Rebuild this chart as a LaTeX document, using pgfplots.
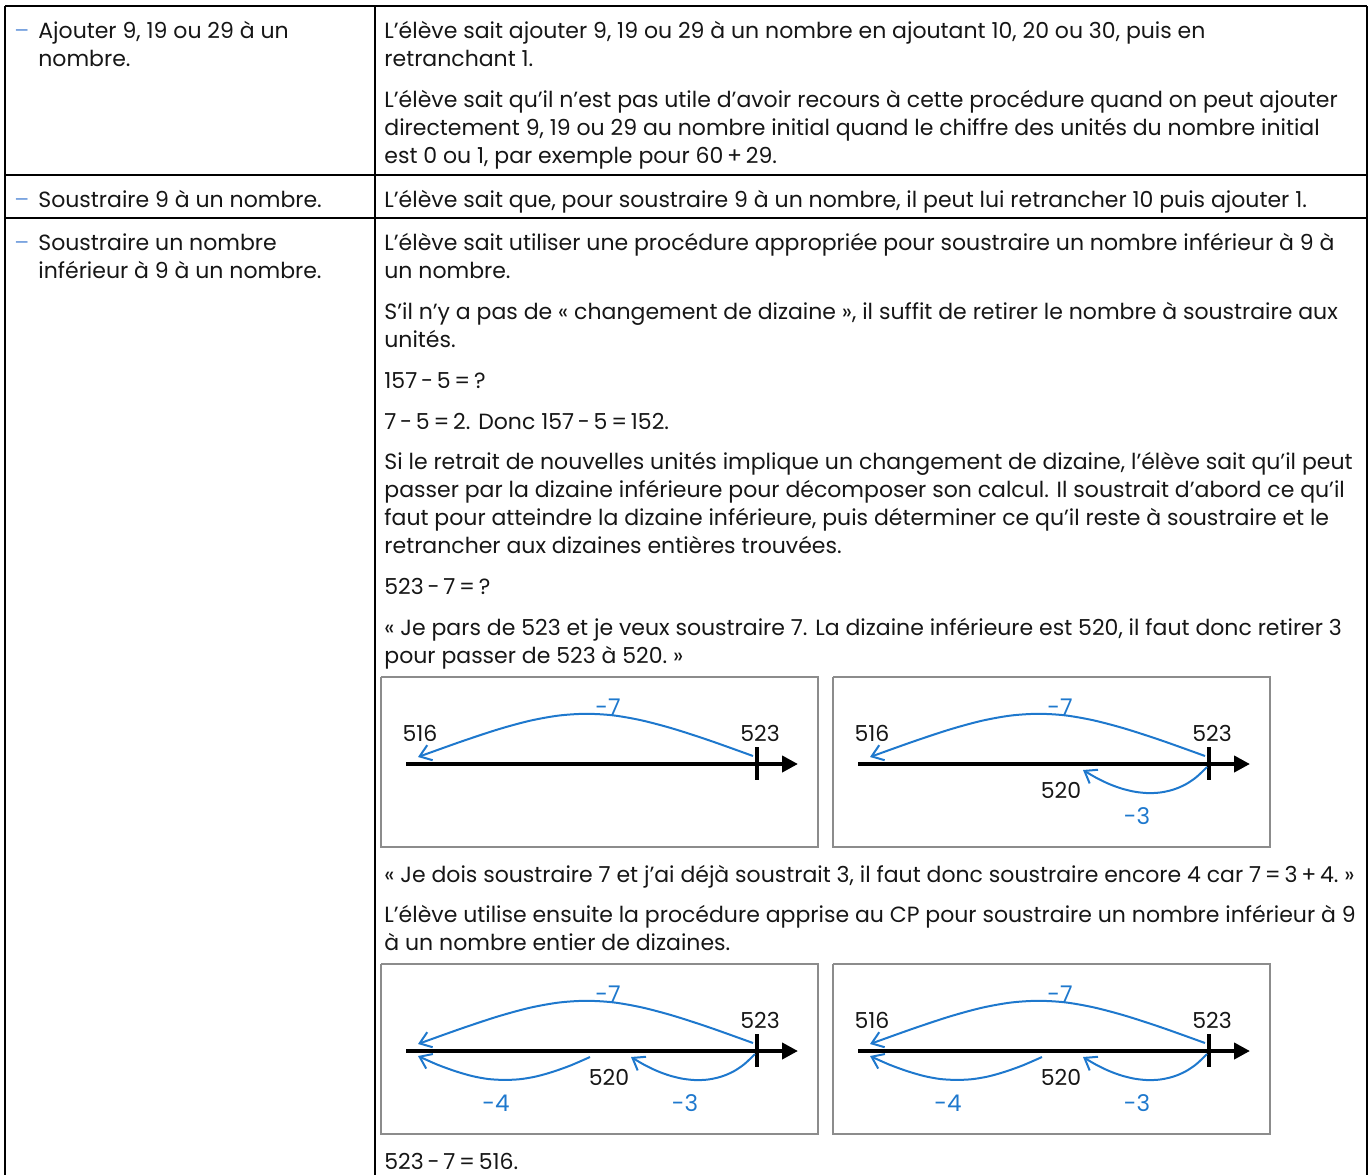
\documentclass[border=0pt]{standalone}
\usepackage{fontspec}
\setmainfont{Poppins}
\usepackage{pgfplots}
\pgfplotsset{compat=1.18}
\usetikzlibrary{arrows.meta}

\definecolor{txt}{RGB}{22,22,22}
\definecolor{arccol}{RGB}{30,120,205}
\definecolor{dashcol}{RGB}{110,155,220}
\definecolor{framecol}{RGB}{140,140,140}

% narrow space around operators
\newcommand{\s}{\hspace{0.17em}}

% 1 px of the reference = 0.5pt
\pgfplotsset{
  px/.style={hide axis, scale only axis, clip=false, y dir=reverse, xmin=0, ymin=0},
  nl/.style={px, xmax=437, ymax=170, width=218.5pt, height=85pt, anchor=north west},
}
\tikzset{
  tx/.style={anchor=base west, inner sep=0pt, text=txt, font=\fontsize{11pt}{13pt}\selectfont},
  num/.style={inner sep=0pt, text=txt, font=\fontsize{11pt}{13pt}\selectfont},
  jmp/.style={inner sep=0pt, text=arccol, font=\fontsize{11.5pt}{13pt}\selectfont},
  rule/.style={black, line width=1.25pt},
  arcline/.style={arccol, line width=1pt, smooth, -{Straight Barb[length=5.5pt,width=8pt]}},
}

% jumps on the number line, in px of one picture box
\pgfplotstableread{
x y
372 79
328.9 63.6
292.2 51.7
260.4 43.3
231.7 38.3
204.5 36.8
177.4 38.6
148.6 43.8
116.7 52.5
80.1 64.6
37 80
}\jumpseven
\pgfplotstableread{
x y
374 90
363.4 100.1
352.2 107.6
340.3 112.6
327.9 115.4
315.2 116.1
302.2 114.8
289.1 111.7
275.9 106.9
262.9 100.6
250 93
}\jumpthree
\pgfplotstableread{
x y
209 93
189.7 101.4
171.8 107.8
155.0 112.5
138.8 115.2
123.0 115.9
107.2 115.0
91.0 112.0
74.1 107.1
56.3 100.6
37 92
}\jumpfour

\newcommand{\numline}{%
  \addplot[framecol, line width=0.9pt] coordinates {(0,0) (437,0) (437,170) (0,170) (0,0)};
  \addplot[black, line width=2pt, -{Triangle[length=8pt,width=8pt]}] coordinates {(25,87) (417,87)};
  \addplot[black, line width=2pt] coordinates {(376,70) (376,103)};
}

\begin{document}
\begin{tikzpicture}
\begin{axis}[px, xmax=1370, ymax=1175, width=685pt, height=587.5pt, at={(0,0)}, anchor=south west]
  % table rules
  \addplot[rule] coordinates {(5,6) (1367,6)};
  \addplot[rule] coordinates {(5,175) (1367,175)};
  \addplot[rule] coordinates {(5,218) (1367,218)};
  \addplot[rule] coordinates {(5,6) (5,1175)};
  \addplot[rule] coordinates {(375,6) (375,1175)};
  \addplot[rule] coordinates {(1367,6) (1367,1175)};

  % left column
  \node[tx, text=dashcol] at (axis cs:14,38) {–};
  \node[tx] at (axis cs:38,38) {Ajouter 9, 19 ou 29 à un};
  \node[tx] at (axis cs:38,66) {nombre.};
  \node[tx, text=dashcol] at (axis cs:14,207) {–};
  \node[tx] at (axis cs:38,207) {Soustraire 9 à un nombre.};
  \node[tx, text=dashcol] at (axis cs:14,250) {–};
  \node[tx] at (axis cs:38,250) {Soustraire un nombre};
  \node[tx] at (axis cs:38,278) {inférieur à 9 à un nombre.};

  % right column
  \node[tx] at (axis cs:384,38) {L’élève sait ajouter 9, 19 ou 29 à un nombre en ajoutant 10, 20 ou 30, puis en};
  \node[tx] at (axis cs:384,66) {retranchant 1.};
  \node[tx] at (axis cs:384,107) {L’élève sait qu’il n’est pas utile d’avoir recours à cette procédure quand on peut ajouter};
  \node[tx] at (axis cs:384,135) {directement 9, 19 ou 29 au nombre initial quand le chiffre des unités du nombre initial};
  \node[tx] at (axis cs:384,163) {est 0 ou 1, par exemple pour 60\s+\s29.};
  \node[tx] at (axis cs:384,207) {L’élève sait que, pour soustraire 9 à un nombre, il peut lui retrancher 10 puis ajouter 1.};
  \node[tx] at (axis cs:384,250) {L’élève sait utiliser une procédure appropriée pour soustraire un nombre inférieur à 9 à};
  \node[tx] at (axis cs:384,278) {un nombre.};
  \node[tx] at (axis cs:384,319) {S’il n’y a pas de «~changement de dizaine~», il suffit de retirer le nombre à soustraire aux};
  \node[tx] at (axis cs:384,347) {unités.};
  \node[tx] at (axis cs:384,388) {157\s-\s5\s=\s?};
  \node[tx] at (axis cs:384,429) {7\s-\s5\s=\s2. Donc 157\s-\s5\s=\s152.};
  \node[tx] at (axis cs:384,469) {Si le retrait de nouvelles unités implique un changement de dizaine, l’élève sait qu’il peut};
  \node[tx] at (axis cs:384,497) {passer par la dizaine inférieure pour décomposer son calcul. Il soustrait d’abord ce qu’il};
  \node[tx] at (axis cs:384,525) {faut pour atteindre la dizaine inférieure, puis déterminer ce qu’il reste à soustraire et le};
  \node[tx] at (axis cs:384,553) {retrancher aux dizaines entières trouvées.};
  \node[tx] at (axis cs:384,594) {523\s-\s7\s=\s?};
  \node[tx] at (axis cs:384,635) {«~Je pars de 523 et je veux soustraire 7. La dizaine inférieure est 520, il faut donc retirer 3};
  \node[tx] at (axis cs:384,663) {pour passer de 523 à 520.~»};
  \node[tx] at (axis cs:384,882) {«~Je dois soustraire 7 et j’ai déjà soustrait 3, il faut donc soustraire encore 4 car 7\s=\s3\s+\s4.~»};
  \node[tx] at (axis cs:384,922) {L’élève utilise ensuite la procédure apprise au CP pour soustraire un nombre inférieur à 9};
  \node[tx] at (axis cs:384,950) {à un nombre entier de dizaines.};
  \node[tx] at (axis cs:384,1169) {523\s-\s7\s=\s516.};
\end{axis}

% picture 1: 516 <- 523, one jump of -7
\begin{axis}[nl, at={(190.5pt,249pt)}]
  \numline
  \addplot[arcline] table {\jumpseven};
  \node[num] at (axis cs:39,56) {516};
  \node[num] at (axis cs:379,56) {523};
  \node[jmp] at (axis cs:227,30) {-7};
\end{axis}

% picture 2: jump of -7 and jump of -3 to 520
\begin{axis}[nl, at={(416.5pt,249pt)}]
  \numline
  \addplot[arcline] table {\jumpseven};
  \addplot[arcline] table {\jumpthree};
  \node[num] at (axis cs:39,56) {516};
  \node[num] at (axis cs:379,56) {523};
  \node[num] at (axis cs:228,113) {520};
  \node[jmp] at (axis cs:227,30) {-7};
  \node[jmp] at (axis cs:304,139) {-3};
\end{axis}

% picture 3: -3 then -4
\begin{axis}[nl, at={(190.5pt,105.5pt)}]
  \numline
  \addplot[arcline] table {\jumpseven};
  \addplot[arcline] table {\jumpthree};
  \addplot[arcline] table {\jumpfour};
  \node[num] at (axis cs:379,56) {523};
  \node[num] at (axis cs:228,113) {520};
  \node[jmp] at (axis cs:227,30) {-7};
  \node[jmp] at (axis cs:115,139) {-4};
  \node[jmp] at (axis cs:304,139) {-3};
\end{axis}

% picture 4: the same, with 516
\begin{axis}[nl, at={(416.5pt,105.5pt)}]
  \numline
  \addplot[arcline] table {\jumpseven};
  \addplot[arcline] table {\jumpthree};
  \addplot[arcline] table {\jumpfour};
  \node[num] at (axis cs:39,56) {516};
  \node[num] at (axis cs:379,56) {523};
  \node[num] at (axis cs:228,113) {520};
  \node[jmp] at (axis cs:227,30) {-7};
  \node[jmp] at (axis cs:115,139) {-4};
  \node[jmp] at (axis cs:304,139) {-3};
\end{axis}

\pgfresetboundingbox
\path (0,0) rectangle (685pt,587.5pt);
\end{tikzpicture}
\end{document}
